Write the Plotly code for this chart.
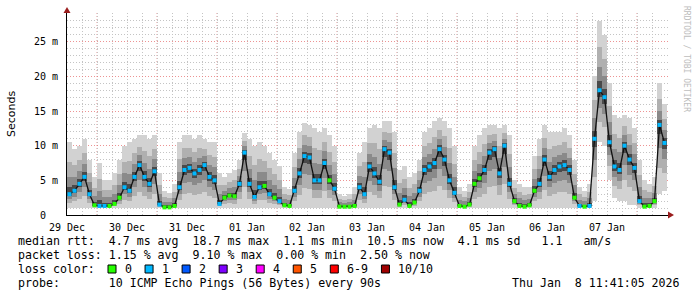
import plotly.graph_objects as go

# ---------------- data ----------------
# column centres, hours since 29 Dec 00:00 (2 h columns)
hours = list(range(1, 240, 2))

median_ms = [3.0, 3.5, 4.5, 5.5, 3.0, 1.4, 1.3, 1.3, 1.3, 1.6,
             2.5, 4.0, 3.5, 5.5, 7.2, 5.5, 4.5, 6.3, 1.5, 1.1,
             1.1, 1.3, 4.0, 6.5, 6.8, 6.0, 6.5, 7.2, 5.5, 5.0,
             1.6, 2.5, 2.8, 2.7, 4.5, 9.0, 4.5, 2.6, 4.0, 4.2,
             3.0, 2.5, 2.0, 1.4, 1.3, 3.5, 6.0, 8.5, 8.3, 5.0,
             5.0, 7.5, 5.0, 3.8, 1.2, 1.2, 1.2, 1.3, 4.0, 3.0,
             7.0, 6.0, 4.8, 9.5, 9.0, 4.0, 1.5, 2.2, 1.3, 1.8,
             3.5, 6.5, 7.0, 7.5, 9.5, 8.0, 5.0, 3.2, 1.3, 1.2,
             1.5, 4.5, 5.3, 6.5, 9.0, 9.5, 6.0, 10.0, 4.5, 2.0,
             1.3, 1.2, 1.4, 3.5, 4.5, 8.0, 5.5, 6.5, 7.0, 7.2,
             6.5, 2.5, 1.3, 1.2, 1.3, 11.0, 18.0, 17.0, 10.5, 7.0,
             6.5, 10.0, 8.0, 6.8, 2.0, 1.2, 1.3, 2.0, 13.0, 10.4]

max_ms = [10.5, 9.5, 10.0, 11.0, 8.0, 5.5, 7.5, 5.0, 5.0, 6.0,
          8.0, 10.0, 10.5, 11.0, 11.5, 11.5, 11.0, 11.5, 6.0, 3.5,
          3.2, 4.5, 10.5, 11.5, 11.5, 11.0, 11.5, 11.0, 10.5, 10.5,
          6.0, 5.5, 6.0, 6.5, 8.0, 11.8, 11.0, 10.0, 10.5, 10.0,
          9.0, 8.0, 7.0, 4.0, 3.8, 9.0, 12.0, 13.3, 13.0, 12.5,
          12.0, 12.5, 11.5, 10.0, 3.0, 2.8, 3.0, 4.0, 9.0, 10.5,
          12.5, 13.0, 12.5, 13.5, 13.5, 12.0, 6.5, 7.0, 5.5, 6.0,
          8.0, 12.0, 12.5, 13.5, 14.0, 13.5, 12.5, 10.0, 4.0, 3.5,
          4.5, 10.0, 11.5, 12.5, 13.0, 13.0, 12.5, 13.0, 11.5, 5.0,
          4.5, 4.0, 4.0, 8.5, 11.0, 13.0, 12.0, 12.0, 12.0, 12.5,
          11.5, 8.0, 4.0, 3.5, 4.5, 20.0, 28.0, 26.0, 19.0, 14.5,
          14.0, 14.5, 14.0, 12.5, 8.0, 5.0, 4.5, 5.5, 19.0, 16.0]

min_ms = [1.0] * 105 + [2.0, 10.5, 10.0, 5.0, 2.5,
                        2.0, 2.0, 1.5, 1.5, 1.0, 1.0, 1.0, 1.0, 3.0, 3.5]

loss = [1, 1, 1, 1, 1, 0, 1, 1, 0, 0,
        0, 1, 1, 1, 1, 1, 1, 1, 1, 0,
        0, 0, 1, 1, 1, 1, 1, 1, 1, 1,
        1, 0, 0, 0, 1, 1, 1, 1, 1, 0,
        1, 0, 1, 0, 0, 1, 1, 1, 1, 1,
        1, 1, 0, 1, 0, 0, 0, 0, 1, 1,
        1, 1, 1, 1, 1, 1, 0, 1, 0, 0,
        1, 1, 1, 1, 1, 1, 1, 1, 0, 0,
        0, 0, 0, 1, 1, 1, 1, 1, 1, 0,
        0, 0, 0, 0, 1, 1, 1, 1, 1, 1,
        1, 0, 1, 0, 1, 1, 1, 1, 1, 1,
        1, 1, 1, 1, 1, 0, 0, 0, 1, 1]

day_labels = ["29 Dec", "30 Dec", "31 Dec", "01 Jan", "02 Jan",
              "03 Jan", "04 Jan", "05 Jan", "06 Jan", "07 Jan"]
y_ticks = [0, 5, 10, 15, 20, 25]
y_ticktext = ["0\u00a0\u00a0", "5 m", "10 m", "15 m", "20 m", "25 m"]

loss_labels = ["0", "1", "2", "3", "4", "5", "6-9", "10/10"]
loss_colors = ["#26ff00", "#00b8ff", "#0059ff", "#7e00ff",
               "#ff00ff", "#ff5500", "#ff0000", "#a00000"]

legend_lines = [
    "median rtt:  4.7 ms avg  18.7 ms max  1.1 ms min  10.5 ms now  4.1 ms sd   1.1   am/s",
    "packet loss: 1.15 % avg  9.10 % max  0.00 % min  2.50 % now",
    "loss color:",
    "probe:       10 ICMP Echo Pings (56 Bytes) every 90s",
]
stamp = "Thu Jan  8 11:41:05 2026"

# ---------------- geometry ----------------
W, H = 697, 297
L, R, T, B = 67, 668, 13, 215          # plot area in pixels
PW, PH = R - L, B - T
X_MAX = 240.4
Y_MAX = 29.15
MONO = "DejaVu Sans Mono"
MINOR_GRID = "#c4c4c4"
MAJOR_GRID = "rgba(232,120,120,0.8)"
DOTS = "1px,2px"


def px(x):
    return (x - L) / PW


def py(y):
    return (B - y) / PH


fig = go.Figure()

# smoke bands (outer -> inner)
shades = [(1.0, "#d2d2d2"), (0.62, "#b0b0b0"), (0.34, "#8a8a8a"), (0.13, "#4a4a4a")]
for frac, col in shades:
    lower = [m - frac * (m - lo) for m, lo in zip(median_ms, min_ms)]
    upper = [m + frac * (hi - m) for m, hi in zip(median_ms, max_ms)]
    fig.add_trace(go.Bar(
        x=hours, y=[u - l for u, l in zip(upper, lower)], base=lower,
        width=2, marker=dict(color=col, line=dict(width=0)),
        hoverinfo="skip", showlegend=False))

# median line
fig.add_trace(go.Scatter(
    x=hours, y=median_ms, mode="lines",
    line=dict(color="#111111", width=1.3),
    hoverinfo="skip", showlegend=False))
# median points coloured by loss
fig.add_trace(go.Scatter(
    x=hours, y=median_ms, mode="markers",
    marker=dict(symbol="square", size=4, color=[loss_colors[v] for v in loss],
                line=dict(width=0)),
    hoverinfo="skip", showlegend=False))

# red major vertical grid at noon of each day
shapes = []
for d in range(len(day_labels)):
    xv = 24 * d + 12
    shapes.append(dict(type="line", xref="x", yref="paper", x0=xv, x1=xv, y0=0, y1=1,
                       line=dict(color=MAJOR_GRID, width=1, dash=DOTS),
                       layer="below"))

# axis arrows
shapes.append(dict(type="path", xref="paper", yref="paper",
                   path=f"M {px(67)},{py(7)} L {px(63.5)},{py(13)} L {px(70.5)},{py(13)} Z",
                   fillcolor="#9a1d1d", line=dict(width=0)))
shapes.append(dict(type="path", xref="paper", yref="paper",
                   path=f"M {px(674)},{py(215)} L {px(668)},{py(211.5)} L {px(668)},{py(218.5)} Z",
                   fillcolor="#9a1d1d", line=dict(width=0)))

# legend colour squares
annotations = []
cw = 7.05
xs = 108.0
for lab, col in zip(loss_labels, loss_colors):
    shapes.append(dict(type="rect", xref="paper", yref="paper",
                       x0=px(xs), x1=px(xs + 8), y0=py(273), y1=py(265),
                       fillcolor=col, line=dict(color="black", width=1)))
    annotations.append(dict(text=lab, xref="paper", yref="paper", x=px(xs + 15), y=py(269),
                            xanchor="left", yanchor="middle", showarrow=False,
                            font=dict(family=MONO, size=11.6, color="black")))
    xs += 16 + len(lab) * cw + 14

for i, line in enumerate(legend_lines):
    annotations.append(dict(text=line.replace(" ", "\u00a0"), xref="paper", yref="paper",
                            x=px(16), y=py(241 + 14 * i), xanchor="left", yanchor="middle",
                            showarrow=False, font=dict(family=MONO, size=11.6, color="black")))
annotations.append(dict(text=stamp.replace(" ", "\u00a0"), xref="paper", yref="paper",
                        x=px(682), y=py(283), xanchor="right", yanchor="middle",
                        showarrow=False, font=dict(family=MONO, size=11.6, color="black")))
annotations.append(dict(text="Seconds", xref="paper", yref="paper", x=px(11), y=py(114),
                        textangle=-90, xanchor="center", yanchor="middle", showarrow=False,
                        font=dict(family="DejaVu Sans", size=11, color="black")))
annotations.append(dict(text="RRDTOOL / TOBI OETIKER", xref="paper", yref="paper",
                        x=px(686), y=py(59), textangle=90, xanchor="center", yanchor="middle",
                        showarrow=False, font=dict(family=MONO, size=8, color="#bdbdbd")))

minor_y = [v for v in range(1, 29) if v % 5 != 0]

fig.update_layout(
    width=W, height=H,
    margin=dict(l=L, r=W - R, t=T, b=H - B, pad=0),
    paper_bgcolor="white", plot_bgcolor="white",
    barmode="overlay", bargap=0,
    showlegend=False,
    shapes=shapes, annotations=annotations,
    xaxis=dict(range=[0, X_MAX], showline=True, linecolor="black", linewidth=1,
               zeroline=False, tickmode="array",
               tickvals=[24 * d for d in range(len(day_labels))], ticktext=day_labels,
               ticks="", ticklabelstandoff=3,
               tickfont=dict(family=MONO, size=10, color="black"),
               showgrid=True, gridcolor=MINOR_GRID, griddash=DOTS, gridwidth=1,
               minor=dict(dtick=6, tick0=0, showgrid=True, gridcolor=MINOR_GRID,
                          griddash=DOTS, gridwidth=1, ticks="")),
    yaxis=dict(range=[0, Y_MAX], showline=True, linecolor="black", linewidth=1,
               zeroline=False, tickmode="array", tickvals=y_ticks, ticktext=y_ticktext,
               ticks="", ticklabelstandoff=6,
               tickfont=dict(family=MONO, size=10, color="black"),
               showgrid=True, gridcolor=MAJOR_GRID, griddash=DOTS, gridwidth=1,
               minor=dict(tickmode="array", tickvals=minor_y, showgrid=True,
                          gridcolor=MINOR_GRID, griddash=DOTS, gridwidth=1, ticks="")),
)

fig.write_html("out.html", config={"displayModeBar": False})
